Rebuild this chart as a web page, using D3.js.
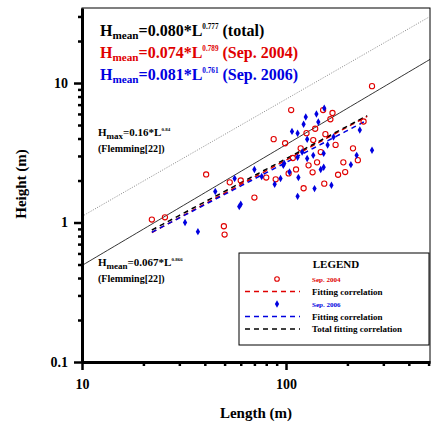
<!DOCTYPE html><html><head><script src="https://d3js.org/d3.v7.min.js"></script>
<style>body{margin:0;background:#fff}text{font-family:"Liberation Serif","Times New Roman",serif;font-weight:bold}</style></head><body><svg id="c" width="447" height="427"></svg>
<script>
const red2004 = [[22,1.05],[25.5,1.09],[49.6,0.94],[50,0.82],[40.6,2.21],[53,1.94],[70,1.51],[80,2.1],[89,2.04],[87,3.96],[106,6.4],[99,3.7],[103,2.25],[112,2.4],[122,1.76],[129,2.57],[135,2.29],[142,2.7],[118,3.4],[126,4.37],[136,3.9],[139,4.7],[152,6.4],[169,6.1],[165,5.5],[156,4.3],[154,1.9],[191,2.7],[213,3.4],[264,9.5],[195,2.3],[225,2.8],[60,2.0],[148,3.2],[108,2.9],[175,3.6],[240,5.3],[180,2.2]];
const blue2006 = [[32,1.0],[37,0.86],[45,1.67],[56,2.07],[60,1.35],[59,1.3],[76,2.14],[88,1.88],[94,2.07],[114,1.54],[115,2.1],[107,4.5],[125,5.7],[122,5.06],[141,6.0],[154,6.6],[144,5.25],[127,3.95],[98,2.65],[97,2.57],[114,2.94],[127,2.88],[136,3.03],[153,3.13],[153,2.49],[167,1.85],[171,4.1],[208,2.6],[222,3.03],[114,4.37],[230,4.6],[264,3.3],[138,1.75],[120,3.2],[104,2.3],[160,3.6],[148,2.4],[70,2.4]];
const xTicks=[10,100], yTicks=[0.1,1,10];
const fits=[{a:0.074,b:0.789,c:"#e00000"},{a:0.081,b:0.761,c:"#0000e0"},{a:0.080,b:0.777,c:"#000"}];
const flemMean={a:0.067,b:0.866}, flemMax={a:0.16,b:0.84};
const svg=d3.select("#c");
const L=82,R=430,T=8,B=362;
const x=d3.scaleLog().domain([10,508]).range([L,R]);
const y=d3.scaleLog().domain([0.1,34.5]).range([B,T]);
svg.append("rect").attr("x",L).attr("y",T).attr("width",R-L).attr("height",B-T).attr("fill","none").attr("stroke","#000").attr("stroke-width",1);
svg.append("clipPath").attr("id","cp").append("rect").attr("x",L).attr("y",T).attr("width",R-L).attr("height",B-T);
const g=svg.append("g").attr("clip-path","url(#cp)");
const ln=(f,l0,l1)=>d3.line()(d3.range(0,101).map(i=>{const l=l0*Math.pow(l1/l0,i/100);return [x(l),y(f.a*Math.pow(l,f.b))]}));
g.append("path").attr("d",ln(flemMax,10,600)).attr("stroke","#888").attr("stroke-dasharray","1,1.5").attr("fill","none").attr("stroke-width",1);
g.append("path").attr("d",ln(flemMean,10,600)).attr("stroke","#000").attr("fill","none").attr("stroke-width",0.8);
fits.forEach(f=>g.append("path").attr("d",ln(f,22,250)).attr("stroke",f.c).attr("stroke-dasharray","5,4").attr("fill","none").attr("stroke-width",1.5));
red2004.forEach(d=>g.append("circle").attr("cx",x(d[0])).attr("cy",y(d[1])).attr("r",2.6).attr("fill","none").attr("stroke","#e00000").attr("stroke-width",1.1));
const sym=d3.symbol().type(d3.symbolDiamond).size(16);
blue2006.forEach(d=>g.append("path").attr("d",sym()).attr("transform",`translate(${x(d[0])},${y(d[1])})`).attr("fill","#0000e0"));
const ax=svg.append("g").attr("transform",`translate(0,${B})`).call(d3.axisBottom(x).tickValues(x.ticks()).tickFormat(d=>xTicks.includes(d)?d:"").tickSizeInner(4).tickSizeOuter(0));
const ay=svg.append("g").attr("transform",`translate(${L},0)`).call(d3.axisLeft(y).tickValues(y.ticks()).tickFormat(d=>yTicks.includes(d)?d:"").tickSizeInner(4).tickSizeOuter(0));
[ax,ay].forEach(a=>{a.select(".domain").attr("stroke-width",3);a.selectAll(".tick line").attr("stroke-width",2.5);a.selectAll("text").attr("font-size",14).attr("font-family","Liberation Serif").attr("font-weight","normal")});
ax.selectAll(".tick line").filter(d=>xTicks.includes(d)).attr("y2",8);
ay.selectAll(".tick line").filter(d=>yTicks.includes(d)).attr("x2",-8);
ax.selectAll("text").attr("dy","1.4em");ay.selectAll("text").attr("dx","-0.5em");
svg.append("text").attr("x",(L+R)/2).attr("y",418).attr("text-anchor","middle").attr("font-size",15).text("Length (m)");
svg.append("text").attr("transform","translate(26,184) rotate(-90)").attr("text-anchor","middle").attr("font-size",15).text("Height (m)");
const eq=(yy,c,co,ex,tail,fs)=>{const t=svg.append("text").attr("x",100).attr("y",yy).attr("fill",c).attr("font-size",fs);
t.append("tspan").text("H");t.append("tspan").attr("font-size",fs*0.7).attr("dy",3).text("mean");
t.append("tspan").attr("dy",-3).text("="+co+"*L");t.append("tspan").attr("font-size",fs*0.45).attr("dy",-7).text(ex);
t.append("tspan").attr("dy",7).text(tail);};
eq(36,"#000","0.080","0.777"," (total)",16);
eq(58,"#e00000","0.074","0.789"," (Sep. 2004)",16);
eq(80,"#0000e0","0.081","0.761"," (Sep. 2006)",16);
const sm=(yy,sub,co,ex)=>{const t=svg.append("text").attr("x",98).attr("y",yy).attr("font-size",11);
t.append("tspan").text("H");t.append("tspan").attr("font-size",9).attr("dy",3).text(sub);
t.append("tspan").attr("dy",-3).text("="+co+"*L");t.append("tspan").attr("font-size",5).attr("dy",-5).text(ex);
svg.append("text").attr("x",98).attr("y",yy+16).attr("font-size",10).text("(Flemming[22])");};
sm(136,"max","0.16","0.84");
sm(266,"mean","0.067","0.866");
const lg=svg.append("g");
lg.append("rect").attr("x",239).attr("y",253).attr("width",190).attr("height",92).attr("fill","#fff").attr("stroke","#000");
lg.append("text").attr("x",336).attr("y",268).attr("text-anchor","middle").attr("font-size",11).text("LEGEND");
const rows=[{t:"Sep. 2004",c:"#e00000",k:"o",fs:7},{t:"Fitting correlation",c:"#e00000",k:"l",fs:9},{t:"Sep. 2006",c:"#0000e0",k:"d",fs:7},{t:"Fitting correlation",c:"#0000e0",k:"l",fs:9},{t:"Total fitting correlation",c:"#000",k:"l",fs:9}];
rows.forEach((r,i)=>{const yy=279+i*12.5;
 if(r.k=="o")lg.append("circle").attr("cx",277).attr("cy",yy).attr("r",2.3).attr("fill","none").attr("stroke",r.c).attr("stroke-width",1.1);
 else if(r.k=="d")lg.append("path").attr("d",sym()).attr("transform",`translate(277,${yy})`).attr("fill",r.c);
 else lg.append("line").attr("x1",245).attr("x2",300).attr("y1",yy).attr("y2",yy).attr("stroke",r.c).attr("stroke-width",1.5).attr("stroke-dasharray","5,4");
 lg.append("text").attr("x",312).attr("y",yy+3).attr("font-size",r.fs).attr("fill",r.k=="l"&&r.c!="#000"?"#000":r.c).text(r.t);});
</script></body></html>
